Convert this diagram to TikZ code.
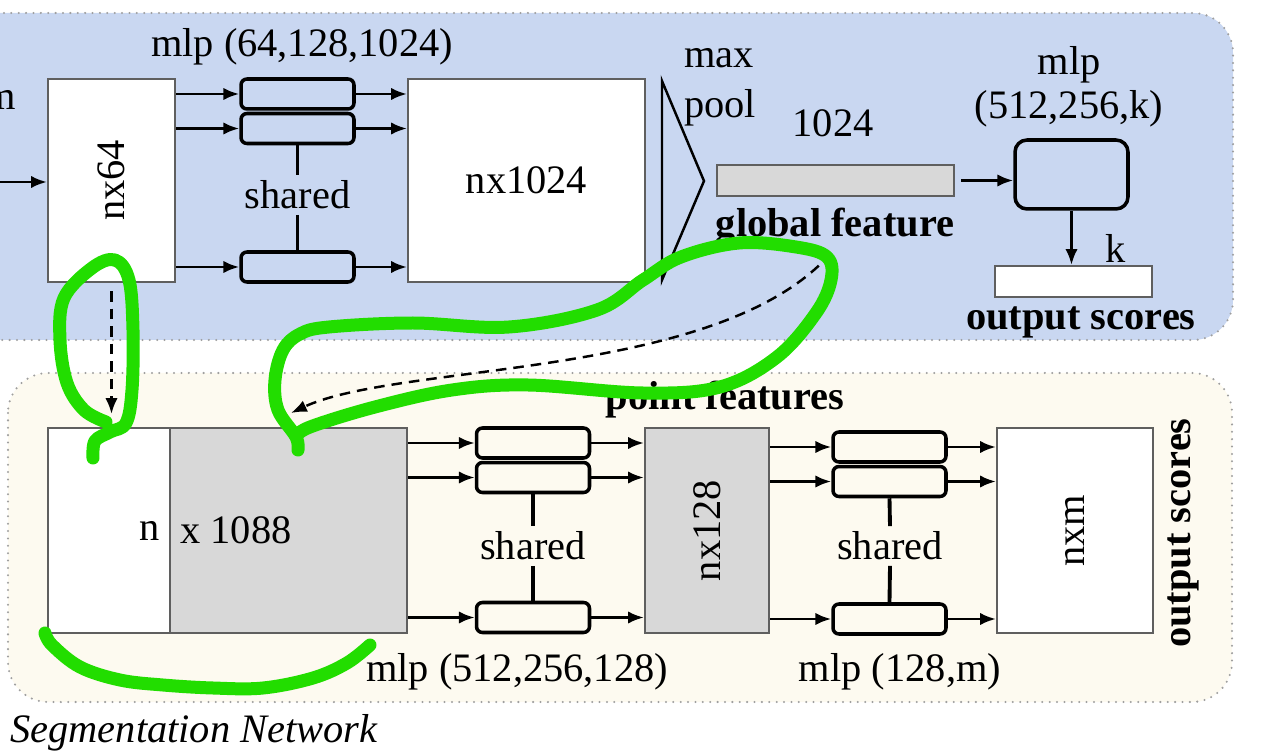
\documentclass[tikz,border=0pt]{standalone}
\usepackage{fontspec}
\setmainfont{Liberation Serif}
\usepackage{graphicx}
\usepackage{xcolor}
\usetikzlibrary{arrows.meta,positioning}

\definecolor{clsblue}{RGB}{201,215,241}
\definecolor{segcream}{RGB}{253,250,240}
\definecolor{featgray}{RGB}{216,216,216}
\definecolor{boxedge}{RGB}{95,95,95}
\definecolor{markgreen}{RGB}{34,221,0}

\begin{document}
\begin{tikzpicture}[
    x=0.02cm, y=-0.02cm,
    font=\fontsize{23}{25.5}\selectfont,
    panel/.style={
      draw=gray!75, line width=1.3pt, line cap=round,
      dash pattern=on 0pt off 4.2pt, rounded corners=0.8cm
    },
    featbox/.style={
      rectangle, draw=boxedge, line width=1.2pt, fill=white,
      inner sep=0pt, minimum height=4.06cm
    },
    mlpbox/.style={
      rectangle, rounded corners=0.12cm,
      draw=black, line width=2pt, inner sep=0pt,
      minimum width=2.26cm, minimum height=0.6cm
    },
    lbl/.style={inner sep=0pt, align=center},
    blbl/.style={lbl, font=\fontsize{23}{25.5}\selectfont\bfseries},
    shlbl/.style={inner sep=3pt},
    shline/.style={line width=2.2pt},
    arr/.style={-{Latex[length=9pt,width=7pt]}, line width=1.6pt},
    darr/.style={-{Latex[length=9pt,width=7pt]}, line width=1.4pt, dash pattern=on 6pt off 4pt},
    hilite/.style={draw=markgreen, line width=0.26cm, line cap=round, line join=round},
  ]
  \useasboundingbox (0,0) rectangle (1288,756);
  \clip (0,0) rectangle (1288,756);

  % Panels
  \draw[panel, fill=clsblue]  (-60,13) rectangle (1233,340);
  \draw[panel, fill=segcream] (8,373)  rectangle (1232,702);

  % Classification tier
  \node[lbl, anchor=east] (inm) at (16,100) {m};
  \coordinate (inpt) at (0,182);
  \node[featbox, minimum width=2.54cm] (nx64) at (111.5,180.5) {\rotatebox{90}{nx64}};
  \node[mlpbox, fill=clsblue] (ma1) at (297.5,94) {};
  \node[mlpbox, fill=clsblue, below=0.02cm of ma1] (ma2) {};
  \node[mlpbox, fill=clsblue] (ma3) at (297.5,267) {};
  \node[shlbl] (sha) at (297.5,195) {shared};
  \node[lbl] (mlpa) at (302,47) {mlp (64,128,1024)};
  \node[featbox, minimum width=4.74cm] (nx1024) at (526.5,180.5) {nx1024};
  \draw[line width=1.4pt, line join=miter] (662,81) -- (704,181) -- (662,280) -- cycle;
  \node[lbl] (maxlbl)  at (719,58)  {max};
  \node[lbl] (poollbl) at (720,108) {pool};
  \node[lbl] (dimg) at (833,123) {1024};
  \node[featbox, fill=featgray, minimum width=4.74cm, minimum height=0.62cm] (gfeat) at (835.5,180.5) {};
  \node[blbl] (gflbl) at (835,227) {global feature};
  \node[lbl] (mlpk1) at (1069,65)  {mlp};
  \node[lbl] (mlpk2) at (1069,109) {(512,256,k)};
  \node[mlpbox, fill=clsblue, rounded corners=0.24cm, minimum height=1.38cm] (mlpk) at (1071.5,174.5) {};
  \node[lbl] (klbl) at (1116,248) {k};
  \node[featbox, minimum width=3.14cm, minimum height=0.62cm] (outk) at (1073.5,281.5) {};
  \node[blbl] (outklbl) at (1081,322) {output scores};

  % Segmentation tier
  \node[featbox, minimum width=2.44cm, minimum height=4.1cm] (nwhite) at (109,530.5) {};
  \node[featbox, fill=featgray, minimum width=4.74cm, minimum height=4.1cm] (n1088) at (288.5,530.5) {};
  \node[lbl, anchor=east] (ntxt) at ([xshift=-0.22cm]nwhite.east) {n};
  \node[lbl, anchor=west] (xtxt) at ([xshift=0.22cm]n1088.west) {x 1088};
  \node[blbl] (ptlbl) at (725,400) {point features};
  \node[mlpbox, fill=segcream] (mb1) at (533,443) {};
  \node[mlpbox, fill=segcream, below=0.02cm of mb1] (mb2) {};
  \node[mlpbox, fill=segcream] (mb3) at (533,617.5) {};
  \node[shlbl] (shb) at (533,546) {shared};
  \node[lbl] (mlpb) at (517,672) {mlp (512,256,128)};
  \node[featbox, fill=featgray, minimum width=2.48cm, minimum height=4.1cm] (nx128) at (707,530.5) {\rotatebox{90}{nx128}};
  \node[mlpbox, fill=segcream] (mc1) at (889.5,447) {};
  \node[mlpbox, fill=segcream, below=0.02cm of mc1] (mc2) {};
  \node[mlpbox, fill=segcream] (mc3) at (889.5,619) {};
  \node[shlbl] (shc) at (890,546) {shared};
  \node[lbl] (mlpc) at (900,672) {mlp (128,m)};
  \node[featbox, minimum width=3.12cm, minimum height=4.1cm] (nxm) at (1075,530.5) {\rotatebox{90}{nxm}};
  \node[blbl, rotate=90] (outseg) at (1183,533) {output scores};
  \node[lbl, anchor=west, font=\fontsize{23}{25.5}\selectfont\itshape] (segname) at (10,733) {Segmentation Network};

  % Edges -- classification
  \draw[arr] (inpt) -- (nx64.west |- inpt);
  \foreach \m in {ma1,ma2,ma3} {
    \draw[arr] (nx64.east |- \m.west) -- (\m.west);
    \draw[arr] (\m.east) -- (nx1024.west |- \m.east);
  }
  \draw[shline] (ma2.south) -- (sha.north);
  \draw[shline] (sha.south) -- (ma3.north);
  \draw[arr, shorten <=0.12cm] (gfeat.east) -- (mlpk.west |- gfeat.east);
  \draw[arr] (mlpk.south) -- (mlpk.south |- outk.north);

  % Edges -- segmentation
  \foreach \m in {mb1,mb2,mb3} {
    \draw[arr] (n1088.east |- \m.west) -- (\m.west);
    \draw[arr] (\m.east) -- (nx128.west |- \m.east);
  }
  \foreach \m in {mc1,mc2,mc3} {
    \draw[arr] (nx128.east |- \m.west) -- (\m.west);
    \draw[arr] (\m.east) -- (nxm.west |- \m.east);
  }
  \draw[shline] (mb2.south) -- (shb.north);
  \draw[shline] (shb.south) -- (mb3.north);
  \draw[shline] (mc2.south) -- (shc.north);
  \draw[shline] (shc.south) -- (mc3.north);

  % Skip links
  \coordinate (gfoot) at (831,253);
  \coordinate (ptin)  at (291,413);
  \draw[darr, shorten <=0.16cm, shorten >=0.26cm] (nx64.south) -- (nx64.south |- nwhite.north);
  \draw[darr] (gfoot) .. controls (720,380) and (400,362) .. (ptin);

  % Green marks
  \draw[hilite] plot[smooth, tension=0.6] coordinates {(93,458) (95,441) (110,432) (126,423) (132,390) (133,330) (129,280) (115,260) (92,268) (64,298) (60,340) (67,383) (84,410) (106,422)};
  \draw[hilite] plot[smooth, tension=0.6] coordinates {(298,450) (296,437) (278,410) (275,380) (283,350) (300,334) (329,327) (413,323) (509,327) (597,310) (643,280) (681,257) (739,243) (796,247) (827,257) (831,280) (816,313) (777,357) (720,387) (643,393) (528,385) (452,390) (375,407) (310,427) (296,437)};
  \draw[hilite] plot[smooth, tension=0.6] coordinates {(45,633) (52,645) (80,667) (120,680) (163,685) (213,688) (263,688) (313,678) (347,663) (370,645)};

\end{tikzpicture}
\end{document}
